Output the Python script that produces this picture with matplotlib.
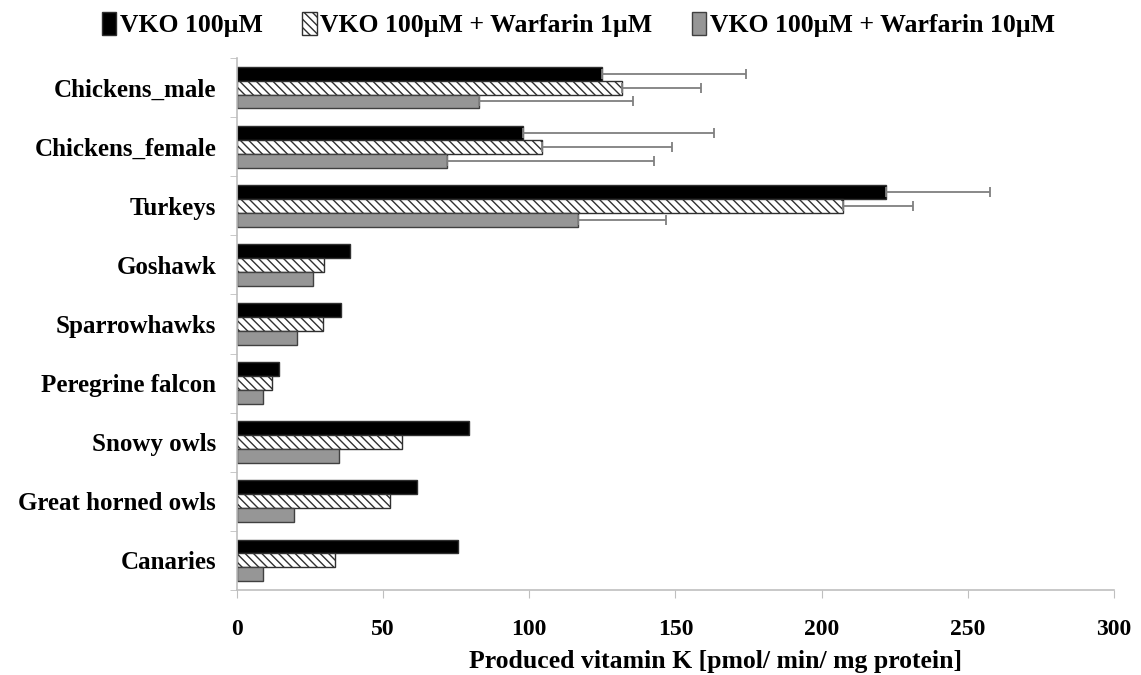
import numpy as np
import matplotlib.pyplot as plt
from matplotlib.patches import Patch

species = ['Chickens_male', 'Chickens_female', 'Turkeys', 'Goshawk', 'Sparrowhawks',
           'Peregrine falcon', 'Snowy owls', 'Great horned owls', 'Canaries']
series_names = ['VKO 100µM', 'VKO 100µM + Warfarin 1µM', 'VKO 100µM + Warfarin 10µM']

vko = [124.7, 97.7, 222.1, 38.7, 35.5, 14.3, 79.5, 61.7, 75.6]
warf1 = [131.8, 104.2, 207.4, 29.7, 29.3, 12.0, 56.5, 52.4, 33.7]
warf10 = [82.9, 71.8, 116.8, 26.1, 20.4, 8.8, 35.0, 19.5, 8.8]

# SD only reported for the poultry groups
vko_err = [49.5, 65.6, 35.4, 0, 0, 0, 0, 0, 0]
warf1_err = [26.8, 44.5, 23.8, 0, 0, 0, 0, 0, 0]
warf10_err = [52.7, 71.0, 30.1, 0, 0, 0, 0, 0, 0]

plt.rcParams['font.family'] = ['Liberation Serif', 'DejaVu Serif']
plt.rcParams['font.weight'] = 'bold'
plt.rcParams['axes.labelweight'] = 'bold'
plt.rcParams['hatch.linewidth'] = 1.0

fig = plt.figure(figsize=(11.41, 6.75), dpi=100)
ax = fig.add_axes([0.2077, 0.126, 0.7686, 0.788])

y = np.arange(len(species))
h = 0.235
styles = [
    dict(color='black', edgecolor='#303030'),
    dict(color='white', edgecolor='#303030', hatch='\\\\\\\\'),
    dict(color='#969696', edgecolor='#404040'),
]
data = [vko, warf1, warf10]
errs = [vko_err, warf1_err, warf10_err]

for i, (vals, err, st) in enumerate(zip(data, errs, styles)):
    pos = y + (i - 1) * h
    ax.barh(pos, vals, height=h, linewidth=1.0, **st)
    err = np.array(err)
    m = err > 0
    ax.errorbar(np.array(vals)[m], pos[m], xerr=[np.zeros(m.sum()), err[m]],
                fmt='none', ecolor='#7f7f7f', elinewidth=1.3, capsize=3.5, capthick=1.3)

ax.set_xlim(0, 300)
ax.set_xticks(np.arange(0, 301, 50))
ax.set_ylim(len(species) - 0.5, -0.5)
ax.set_yticks(y)
ax.set_yticklabels(species, fontsize=18)
ax.set_yticks(np.arange(-0.5, len(species)), minor=True)
ax.tick_params(axis='y', which='major', length=0, pad=15)
ax.tick_params(axis='y', which='minor', length=5, color='#bfbfbf')
ax.tick_params(axis='x', length=6, color='#bfbfbf', labelsize=17, pad=15)

for side in ['top', 'right']:
    ax.spines[side].set_visible(False)
for side in ['left', 'bottom']:
    ax.spines[side].set_color('#bfbfbf')
    ax.spines[side].set_linewidth(1.2)

ax.set_xlabel('Produced vitamin K [pmol/ min/ mg protein]', fontsize=18.5, labelpad=7, x=0.546)

handles = [Patch(facecolor=st['color'], edgecolor=st['edgecolor'], hatch=st.get('hatch'))
           for st in styles]
fig.legend(handles, series_names, loc='upper center', bbox_to_anchor=(0.507, 1.017), ncol=3,
           frameon=False, fontsize=18.5, handlelength=0.55, handleheight=1.0,
           handletextpad=0.15, columnspacing=1.55)

fig.savefig('out.png', dpi=100)
